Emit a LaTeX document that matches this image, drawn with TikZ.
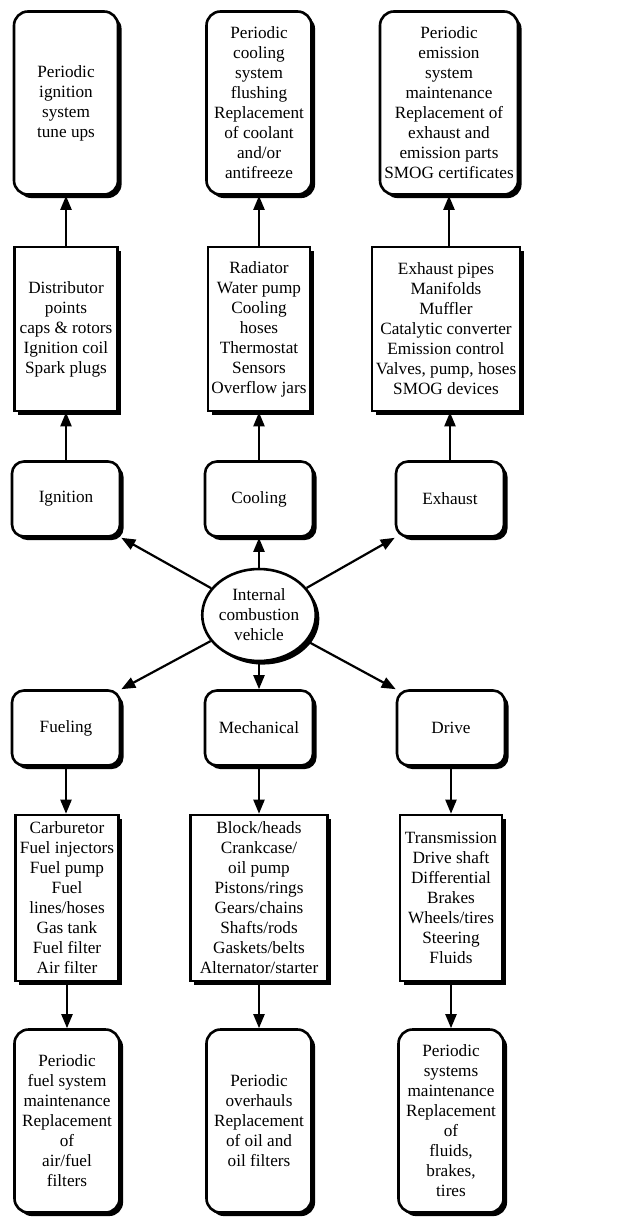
\documentclass[tikz,border=0pt]{standalone}
\usepackage{fontspec}
\setmainfont{Liberation Serif}
\usetikzlibrary{arrows.meta,shapes.geometric,shadows}

\begin{document}
\begin{tikzpicture}[x=0.5pt,y=-0.5pt,
    box/.style={draw,fill=white,line width=1.3pt,align=center,inner sep=1.5pt,
      font=\fontsize{8.6}{10}\selectfont,
      drop shadow={shadow xshift=1.8pt,shadow yshift=-1.8pt,fill=black,opacity=1}},
    plan/.style={box,rounded corners=7pt,minimum width=52.5pt,minimum height=91.5pt},
    parts/.style={box,minimum height=82pt},
    group/.style={box,rounded corners=6pt,minimum width=54pt,minimum height=37.5pt},
    hub/.style={box,ellipse,minimum width=55pt,minimum height=46pt,inner sep=0pt},
    link/.style={line width=1.1pt,-{Triangle[length=7pt,width=5.5pt]}}]
        \useasboundingbox (0,0) rectangle (631,1219);
        \node[plan,minimum width=52pt] (ignPlan) at (66,103) {Periodic\\ignition\\system\\tune ups};
        \node[plan] (coolPlan) at (259,103) {Periodic\\cooling\\system\\flushing\\Replacement\\of coolant\\and/or\\antifreeze};
        \node[plan,minimum width=69pt] (exhPlan) at (449,103) {Periodic\\emission\\system\\maintenance\\Replacement of\\exhaust and\\emission parts\\SMOG certificates};
        \node[parts,minimum width=51.5pt] (ignParts) at (66,329) {Distributor\\points\\caps \& rotors\\Ignition coil\\Spark plugs};
        \node[parts,minimum width=51pt] (coolParts) at (259,329) {Radiator\\Water pump\\Cooling\\hoses\\Thermostat\\Sensors\\Overflow jars};
        \node[parts,minimum width=74pt] (exhParts) at (446,329) {Exhaust pipes\\Manifolds\\Muffler\\Catalytic converter\\Emission control\\Valves, pump, hoses\\SMOG devices};
        \node[group] (ign) at (66,499) {Ignition};
        \node[group] (cool) at (259,499) {Cooling};
        \node[group] (exh) at (450,499) {Exhaust};
        \node[hub] (ice) at (259,615) {Internal\\combustion\\vehicle};
        \node[group] (fuel) at (66,728) {Fueling};
        \node[group] (mech) at (259,728) {Mechanical};
        \node[group] (drive) at (451,728) {Drive};
        \node[parts,minimum width=51.5pt,minimum height=83pt] (fuelParts) at (67,898) {Carburetor\\Fuel injectors\\Fuel pump\\Fuel\\lines/hoses\\Gas tank\\Fuel filter\\Air filter};
        \node[parts,minimum width=68.5pt,minimum height=83pt] (mechParts) at (259,898) {Block/heads\\Crankcase/\\oil pump\\Pistons/rings\\Gears/chains\\Shafts/rods\\Gaskets/belts\\Alternator/starter};
        \node[parts,minimum width=51pt,minimum height=83pt] (driveParts) at (451,898) {Transmission\\Drive shaft\\Differential\\Brakes\\Wheels/tires\\Steering\\Fluids};
        \node[plan] (fuelPlan) at (67,1121) {Periodic\\fuel system\\maintenance\\Replacement\\of\\air/fuel\\filters};
        \node[plan] (mechPlan) at (259,1121) {Periodic\\overhauls\\Replacement\\of oil and\\oil filters};
        \node[plan] (drivePlan) at (451,1121) {Periodic\\systems\\maintenance\\Replacement\\of\\fluids,\\brakes,\\tires};
        \draw[link] (ignParts.north) -- (ignParts.north |- ignPlan.south);
        \draw[link] (coolParts.north) -- (coolParts.north |- coolPlan.south);
        \draw[link] (exhPlan.south |- exhParts.north) -- (exhPlan.south);
        \draw[link] (ign.north) -- (ign.north |- ignParts.south);
        \draw[link] (cool.north) -- (cool.north |- coolParts.south);
        \draw[link] (exh.north) -- (exh.north |- exhParts.south);
        \draw[link] (ice) -- (ign.south east);
        \draw[link] (ice.north) -- (ice.north |- cool.south);
        \draw[link] (ice) -- (exh.south west);
        \draw[link] (ice) -- (fuel.north east);
        \draw[link] (ice.south) -- (ice.south |- mech.north);
        \draw[link] (ice) -- (drive.north west);
        \draw[link] (fuel.south) -- (fuel.south |- fuelParts.north);
        \draw[link] (mech.south) -- (mech.south |- mechParts.north);
        \draw[link] (drive.south) -- (drive.south |- driveParts.north);
        \draw[link] (fuelParts.south) -- (fuelParts.south |- fuelPlan.north);
        \draw[link] (mechParts.south) -- (mechParts.south |- mechPlan.north);
        \draw[link] (driveParts.south) -- (driveParts.south |- drivePlan.north);
      \end{tikzpicture}
\end{document}
